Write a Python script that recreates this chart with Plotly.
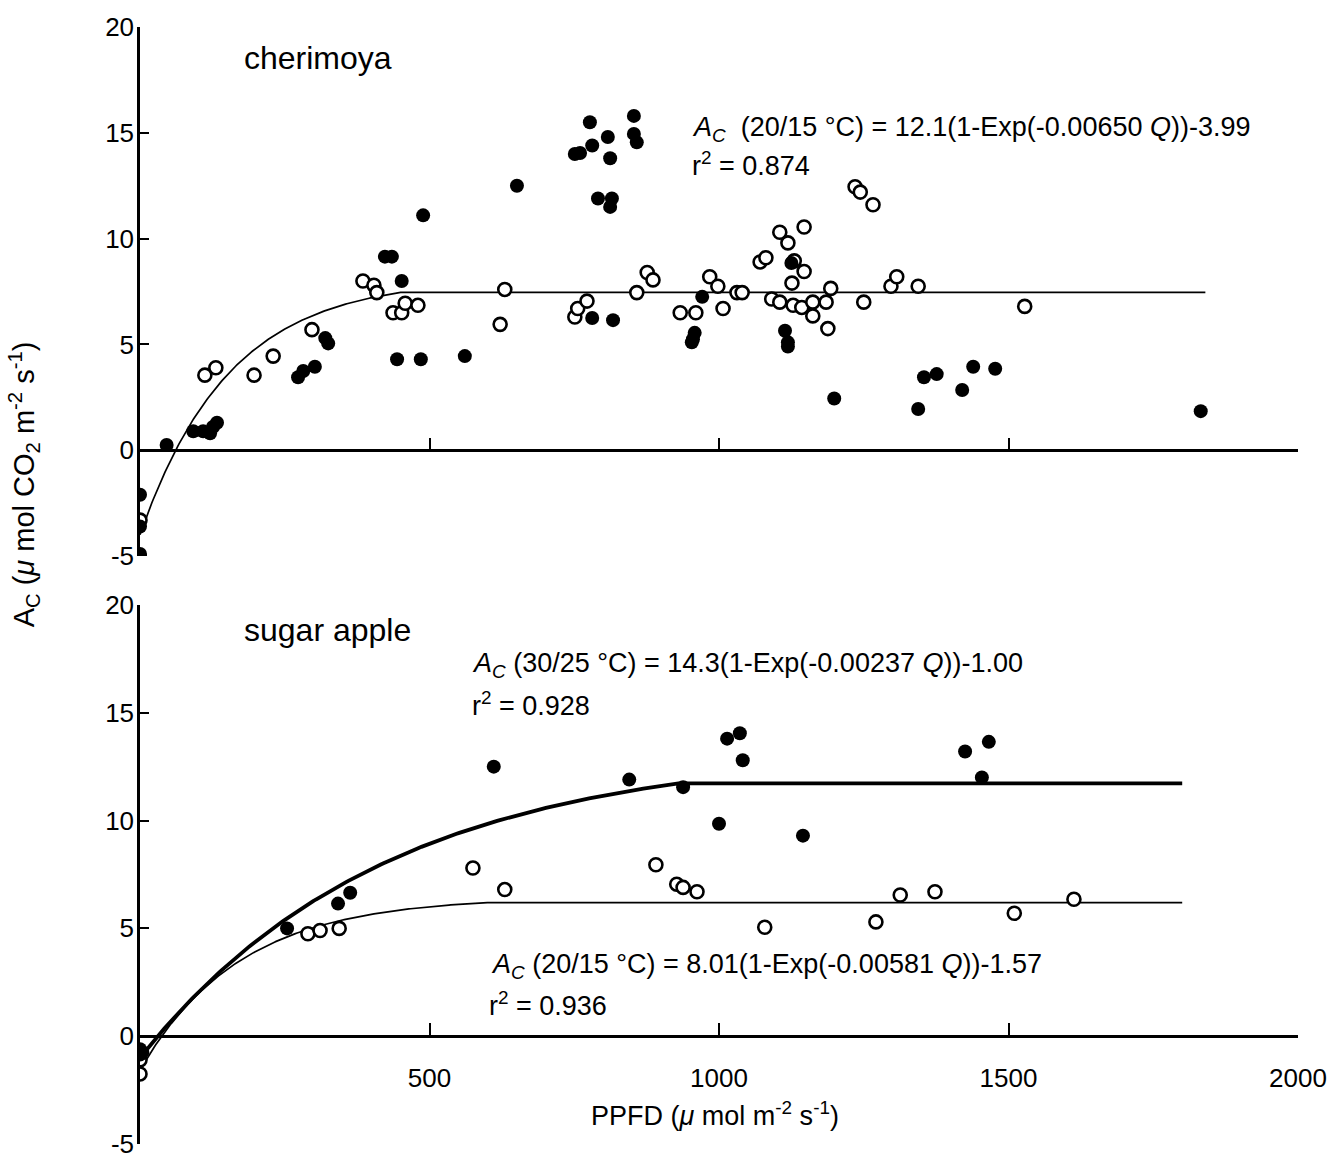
import numpy as np
import plotly.graph_objects as go

# ---------------- data ----------------
# Cherimoya (top panel)
cher_filled_q = [0, 0, 0, 0, 46, 92, 109, 121, 126, 133, 273, 282, 302, 320, 325, 444, 485, 561,
                 651, 489, 423, 435, 452, 777, 853, 808, 781, 751, 760, 853, 858, 812, 791, 815, 812,
                 971, 958, 955, 953, 781, 817, 1125, 1114, 1119, 1119, 1199, 1344, 1354, 1376, 1420,
                 1439, 1477, 1832]
cher_filled_ac = [-2.1, -3.6, -4.9, -5.0, 0.25, 0.9, 0.9, 0.8, 1.1, 1.3, 3.45, 3.75, 3.95, 5.3, 5.05,
                  4.3, 4.3, 4.45, 12.5, 11.1, 9.15, 9.15, 8.0, 15.5, 15.8, 14.8, 14.4, 14.0, 14.05,
                  14.95, 14.55, 13.8, 11.9, 11.9, 11.5, 7.25, 5.55, 5.25, 5.1, 6.25, 6.15, 8.85, 5.65,
                  5.1, 4.9, 2.45, 1.95, 3.45, 3.6, 2.85, 3.95, 3.85, 1.85]

cher_open_q = [0, 112, 131, 197, 230, 297, 385, 404, 409, 437, 452, 458, 480, 622, 630, 751, 756,
               772, 858, 876, 886, 933, 960, 984, 998, 1007, 1031, 1040, 1071, 1081, 1091, 1105,
               1105, 1119, 1128, 1130, 1126, 1143, 1147, 1147, 1162, 1162, 1185, 1188, 1193, 1235,
               1244, 1250, 1266, 1297, 1307, 1344, 1528]
cher_open_ac = [-3.3, 3.55, 3.9, 3.55, 4.45, 5.7, 8.0, 7.8, 7.45, 6.5, 6.5, 6.95, 6.85, 5.95, 7.6,
                6.3, 6.7, 7.05, 7.45, 8.4, 8.05, 6.5, 6.5, 8.2, 7.75, 6.7, 7.45, 7.45, 8.9, 9.1, 7.15,
                10.3, 7.0, 9.8, 6.85, 8.95, 7.9, 6.75, 10.55, 8.45, 7.0, 6.35, 7.0, 5.75, 7.65, 12.45,
                12.2, 7.0, 11.6, 7.75, 8.2, 7.75, 6.8]

# Sugar apple (bottom panel): filled = 30/25 °C, open = 20/15 °C
sugar_warm_q = [0, 4, 0, 254, 342, 363, 611, 845, 938, 1000, 1014, 1036, 1041, 1145, 1425, 1454, 1466]
sugar_warm_ac = [-0.6, -0.75, -0.85, 5.0, 6.15, 6.65, 12.5, 11.9, 11.55, 9.85, 13.8, 14.05, 12.8,
                 9.3, 13.2, 12.0, 13.65]

sugar_cool_q = [0, 0, 290, 311, 344, 575, 630, 891, 927, 938, 962, 1079, 1271, 1313, 1373, 1510, 1613]
sugar_cool_ac = [-1.1, -1.75, 4.75, 4.9, 5.0, 7.8, 6.8, 7.95, 7.05, 6.9, 6.7, 5.05, 5.3, 6.55, 6.7,
                 5.7, 6.35]

# Fitted light-response curves: A = a(1 - exp(-k Q)) - c,
# drawn up to q_sat and held level from there to q_end
fits = {
    "cher_20_15": dict(a=12.1, k=0.00650, c=3.99, q_sat=450, q_end=1840),
    "sugar_30_25": dict(a=14.3, k=0.00237, c=1.00, q_sat=930, q_end=1800),
    "sugar_20_15": dict(a=8.01, k=0.00581, c=1.57, q_sat=600, q_end=1800),
}

y_ticks = [-5, 0, 5, 10, 15, 20]
y_tick_labels = ["-5", "0", "5", "10", "15", "20"]
x_ticks = [500, 1000, 1500, 2000]
x_tick_labels = ["500", "1000", "1500", "2000"]


def fit_curve(a, k, c, q_sat, q_end):
    q = np.linspace(0, q_sat, 200)
    ac = a * (1 - np.exp(-k * q)) - c
    q = np.append(q, q_end)
    ac = np.append(ac, ac[-1])
    return q, ac


FONT = "Liberation Sans, Arial, Helvetica, sans-serif"

fig = go.Figure()

# ---- curves ----
q, ac = fit_curve(**fits["cher_20_15"])
fig.add_trace(go.Scatter(x=q, y=ac, mode="lines", line=dict(color="black", width=1.7),
                         xaxis="x", yaxis="y", showlegend=False, hoverinfo="skip"))
q, ac = fit_curve(**fits["sugar_30_25"])
fig.add_trace(go.Scatter(x=q, y=ac, mode="lines", line=dict(color="black", width=3.8),
                         xaxis="x2", yaxis="y2", showlegend=False, hoverinfo="skip"))
q, ac = fit_curve(**fits["sugar_20_15"])
fig.add_trace(go.Scatter(x=q, y=ac, mode="lines", line=dict(color="black", width=1.7),
                         xaxis="x2", yaxis="y2", showlegend=False, hoverinfo="skip"))

filled = dict(size=14, color="black", line=dict(color="black", width=0))
hollow = dict(size=13, color="white", line=dict(color="black", width=2.6))

# ---- points ----
fig.add_trace(go.Scatter(x=cher_open_q, y=cher_open_ac, mode="markers", marker=hollow,
                         xaxis="x", yaxis="y", showlegend=False))
fig.add_trace(go.Scatter(x=cher_filled_q, y=cher_filled_ac, mode="markers", marker=filled,
                         xaxis="x", yaxis="y", showlegend=False))
fig.add_trace(go.Scatter(x=sugar_cool_q, y=sugar_cool_ac, mode="markers", marker=hollow,
                         xaxis="x2", yaxis="y2", showlegend=False))
fig.add_trace(go.Scatter(x=sugar_warm_q, y=sugar_warm_ac, mode="markers", marker=filled,
                         xaxis="x2", yaxis="y2", showlegend=False))

top_dom = [0.5263, 1.0]
bot_dom = [0.0, 0.4826]
y_range = [-5, 20]
zero_frac = (0 - y_range[0]) / (y_range[1] - y_range[0])

yax = dict(range=y_range, showline=True, linecolor="black", linewidth=2.5, ticks="inside",
           ticklen=9, tickwidth=2, tickcolor="black", tickvals=y_ticks, ticktext=y_tick_labels,
           showgrid=False, zeroline=False, tickfont=dict(family=FONT, size=26, color="black"),
           ticklabelstandoff=-2)
xax = dict(range=[0, 2000], domain=[0, 1], showline=True, linecolor="black", linewidth=2.5,
           ticks="inside", ticklen=12, tickwidth=2, tickcolor="black", tickvals=x_ticks,
           ticktext=x_tick_labels, showgrid=False, zeroline=False, anchor="free",
           tickfont=dict(family=FONT, size=26, color="black"))

fig.update_layout(
    width=1339, height=1162,
    margin=dict(l=140, r=41, t=27, b=3),
    paper_bgcolor="white", plot_bgcolor="white",
    font=dict(family=FONT, color="black"),
    yaxis=dict(**yax, domain=top_dom),
    yaxis2=dict(**yax, domain=bot_dom),
    xaxis=dict(**xax, position=top_dom[0] + zero_frac * (top_dom[1] - top_dom[0]),
               showticklabels=False),
    xaxis2=dict(**xax, position=bot_dom[0] + zero_frac * (bot_dom[1] - bot_dom[0]),
                showticklabels=True, ticklabelstandoff=18),
)

ann_font = dict(family=FONT, size=27, color="black")
AC = "<i>A</i><sub><i>C</i></sub>"
texts = [
    # panel names
    dict(x=176, y=18.55, xref="x", yref="y", text="cherimoya", font=dict(family=FONT, size=32)),
    dict(x=176, y=18.85, xref="x2", yref="y2", text="sugar apple", font=dict(family=FONT, size=32)),
    # fitted equations
    dict(x=950, y=15.2, xref="x", yref="y",
         text=AC + "  (20/15 °C) = 12.1(1-Exp(-0.00650 <i>Q</i>))-3.99", font=ann_font),
    dict(x=950, y=13.55, xref="x", yref="y", text="r<sup>2</sup> = 0.874", font=ann_font),
    dict(x=570, y=17.2, xref="x2", yref="y2",
         text=AC + " (30/25 °C) = 14.3(1-Exp(-0.00237 <i>Q</i>))-1.00", font=ann_font),
    dict(x=570, y=15.4, xref="x2", yref="y2", text="r<sup>2</sup> = 0.928", font=ann_font),
    dict(x=603, y=3.25, xref="x2", yref="y2",
         text=AC + " (20/15 °C) = 8.01(1-Exp(-0.00581 <i>Q</i>))-1.57", font=ann_font),
    dict(x=600, y=1.5, xref="x2", yref="y2", text="r<sup>2</sup> = 0.936", font=ann_font),
]
for t in texts:
    fig.add_annotation(showarrow=False, xanchor="left", yanchor="middle", **t)

# axis titles
fig.add_annotation(x=(715 - 140) / 1158, y=-3.6, xref="paper", yref="y2",
                   text="PPFD (<i>μ</i> mol m<sup>-2</sup> s<sup>-1</sup>)", showarrow=False,
                   xanchor="center", yanchor="middle", font=dict(family=FONT, size=27))
fig.add_annotation(x=(24 - 140) / 1158, y=(1148 - 486) / 1121, xref="paper", yref="paper",
                   text="A<sub>C</sub> (<i>μ</i> mol CO<sub>2</sub> m<sup>-2</sup> s<sup>-1</sup>)",
                   textangle=-90, showarrow=False, xanchor="center", yanchor="middle",
                   font=dict(family=FONT, size=29))

fig.write_html("out.html")
